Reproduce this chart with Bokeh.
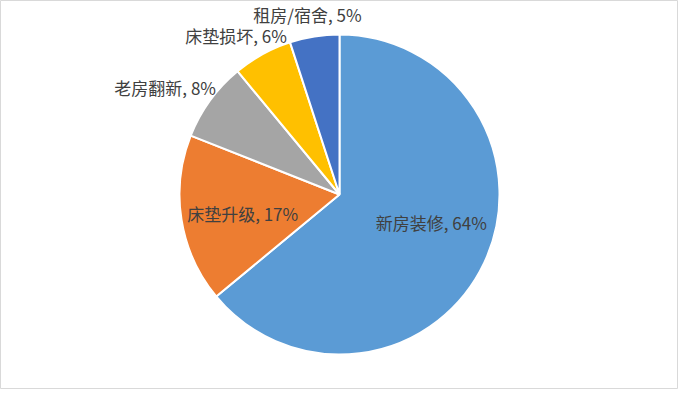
import math
from bokeh.plotting import figure
from bokeh.models import Range1d, ColumnDataSource
from bokeh.core.properties import value
from bokeh.embed import file_html
from bokeh.resources import INLINE

# data
categories = ["新房装修", "床垫升级", "老房翻新", "床垫损坏", "租房/宿舍"]
percents = [64, 17, 8, 6, 5]
colors = ["#5B9BD5", "#ED7D31", "#A5A5A5", "#FFC000", "#4472C4"]

# layout / style
W, H = 678, 389
cx, cy, R = 339, 195, 160
label_k = [0.6, 0.6, 1.2, 1.2, 1.2]
label_dx = [5, -2, -19, -11, -2]
label_dy = [-13, 4, 6, 9, 10]

total = sum(percents)
starts, ends, lx, ly, texts = [], [], [], [], []
acc = 0.0
for i, v in enumerate(percents):
    a0 = math.pi / 2 - 2 * math.pi * acc / total
    acc += v
    a1 = math.pi / 2 - 2 * math.pi * acc / total
    starts.append(a0)
    ends.append(a1)
    mid = (a0 + a1) / 2
    lx.append(cx + label_k[i] * R * math.cos(mid))
    ly.append(cy + label_k[i] * R * math.sin(mid))
    texts.append(f"{categories[i]}, {v}%")

src = ColumnDataSource(dict(start=starts, end=ends, color=colors,
                            lx=lx, ly=ly, text=texts, dx=label_dx, dy=label_dy))

p = figure(width=W, height=H, x_range=Range1d(0, W), y_range=Range1d(0, H),
           output_backend="svg", toolbar_location=None, min_border=0)
p.axis.visible = False
p.grid.visible = False
p.outline_line_color = "#D9D9D9"
p.outline_line_width = 1
p.background_fill_color = "white"
p.border_fill_color = "white"

p.wedge(x=cx, y=cy, radius=R, start_angle="start", end_angle="end",
        direction="clock", fill_color="color", line_color="white",
        line_width=2, source=src)

p.text(x="lx", y="ly", text="text", x_offset="dx", y_offset="dy",
       text_align="center", text_baseline="middle",
       text_font=value("Noto Sans CJK SC"), text_font_size="17px",
       text_color="#404040", source=src)

open("out.html", "w").write(file_html(p, INLINE))
